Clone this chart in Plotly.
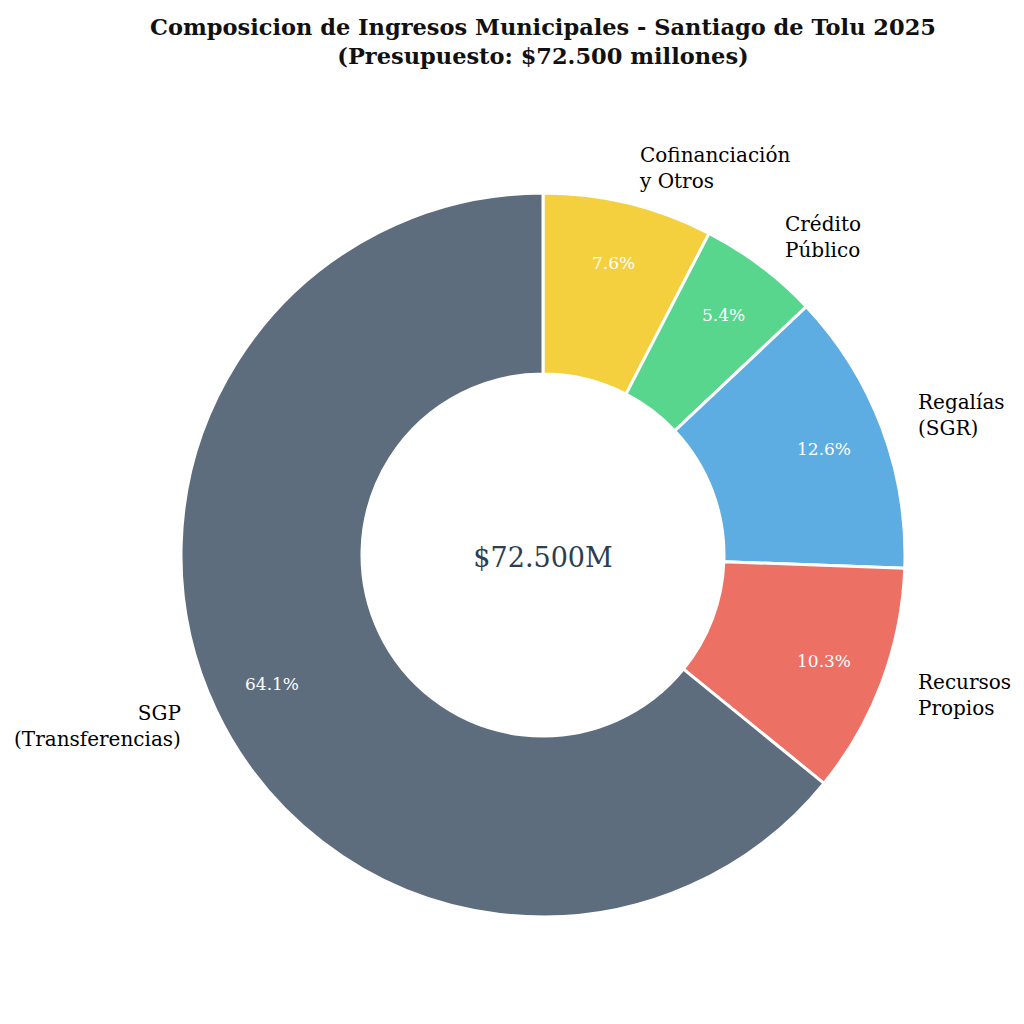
import math
import plotly.graph_objects as go

# ingresos en millones de pesos (orden horario desde las 12)
labels = ['Cofinanciación<br>y Otros', 'Crédito<br>Público', 'Regalías<br>(SGR)',
          'Recursos<br>Propios', 'SGP<br>(Transferencias)']
values = [5500, 3900, 9150, 7450, 46500]
colors = ['#f4d03f', '#58d68d', '#5dade2', '#ec7063', '#5d6d7e']
total_txt = '$72.500M'

font = 'DejaVu Serif'
W = 1024
cx, cy, R = 535, 547, 362  # centro y radio en px del papel
dom = dict(x=[(cx - R) / W, (cx + R) / W], y=[1 - (cy + R) / W, 1 - (cy - R) / W])

fig = go.Figure(go.Pie(
    labels=labels, values=values, sort=False, direction='clockwise',
    hole=0.5, domain=dom,
    marker=dict(colors=colors, line=dict(color='white', width=3)),
    textinfo='none',
    title=dict(text=total_txt, position='middle center',
               font=dict(family=font, size=27, color='#2c3e50')),
    showlegend=False, hoverinfo='label+value+percent',
))

# porcentajes y etiquetas a partir del angulo medio de cada porcion
total = sum(values)
cum = 0
for lab, v in zip(labels, values):
    ang = math.radians(90 - 360 * (cum + v / 2) / total)
    cum += v
    c, s = math.cos(ang), math.sin(ang)
    fig.add_annotation(
        x=(cx + 0.83 * R * c) / W, y=1 - (cy - 0.83 * R * s) / W,
        xref='paper', yref='paper', showarrow=False,
        xanchor='center', yanchor='middle',
        text=f'{100 * v / total:.1f}%',
        font=dict(family=font, size=17, color='white'))
    fig.add_annotation(
        x=(cx + 1.1 * R * c) / W, y=1 - (cy - 1.1 * R * s) / W,
        xref='paper', yref='paper', showarrow=False,
        xanchor='left' if c > 0 else 'right', yanchor='middle',
        align='left' if c > 0 else 'right',
        text=lab, font=dict(family=font, size=20, color='#000000'))

fig.update_layout(
    width=1024, height=1024,
    margin=dict(l=0, r=0, t=0, b=0),
    paper_bgcolor='white',
    title=dict(text='<b>Composicion de Ingresos Municipales - Santiago de Tolu 2025<br>'
                    '(Presupuesto: $72.500 millones)</b>',
               x=cx / W, xanchor='center', y=0.974, yanchor='top',
               font=dict(family=font, size=22.5, color='#111111')),
)

fig.write_html('out.html')
